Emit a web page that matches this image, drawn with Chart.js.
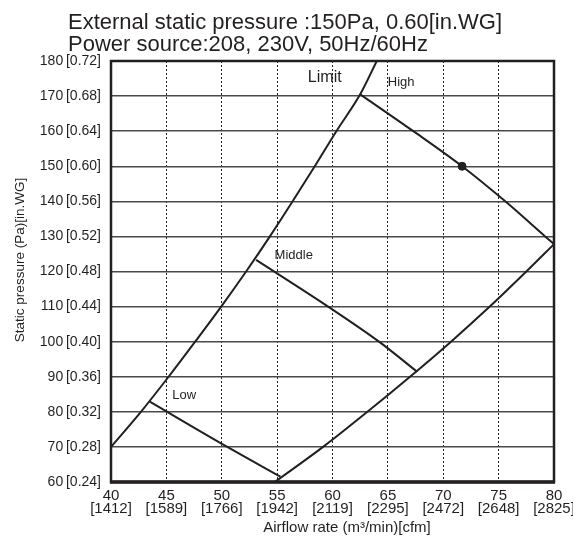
<!DOCTYPE html>
<html>
<head>
<meta charset="utf-8">
<script src="https://cdn.jsdelivr.net/npm/chart.js@4/dist/chart.umd.min.js"></script>
<style>
  html, body { margin: 0; padding: 0; background: #fff; }
  #wrap { width: 573px; height: 539px; position: relative; }
</style>
</head>
<body>
<div id="wrap"><canvas id="fan-chart"></canvas></div>
<script>
// Axis ticks and labels
const xTicks = [40, 45, 50, 55, 60, 65, 70, 75, 80];
const cfmLabels = ['1412', '1589', '1766', '1942', '2119', '2295', '2472', '2648', '2825'];
const yTicks = [60, 70, 80, 90, 100, 110, 120, 130, 140, 150, 160, 170, 180];
const inwgLabels = ['0.24', '0.28', '0.32', '0.36', '0.40', '0.44', '0.48', '0.52', '0.56', '0.60', '0.64', '0.68', '0.72'];

const titleLines = ['External static pressure :150Pa, 0.60[in.WG]', 'Power source:208, 230V, 50Hz/60Hz'];
const xTitle = 'Airflow rate (m³/min)[cfm]';
const yTitle = 'Static pressure (Pa)[in.WG]';

// Curves: airflow (m3/min) and static pressure (Pa)
const limitFlow = [40, 42.7, 45.2, 47.6, 49.95, 52.2, 54.35, 56.4, 58.4, 60.35, 62.5, 64.0];
const limitPa   = [70, 80, 90, 100, 110, 120, 130, 140, 150, 160, 170.5, 180];

const highFlow = [62.5, 67.3, 71.7, 75.6, 79.2, 80];
const highPa   = [170.5, 160, 150, 140, 130, 127.8];

const middleFlow = [53.1, 59.6, 64.2, 67.65];
const middlePa   = [123.3, 110, 100, 91.4];

const lowFlow = [43.5, 50.5, 55.3];
const lowPa   = [82.9, 70, 61.5];

const minFlow = [54.8, 59.15, 63.15, 67.0, 70.7, 74.2, 77.5, 80];
const minPa   = [60, 70, 80, 90, 100, 110, 120, 127.8];

// Rated point
const ratedFlow = [71.7];
const ratedPa = [150];

// Curve names written on the chart
const curveNames = ['Limit', 'High', 'Middle', 'Low'];
const nameFlow = [59.3, 66.2, 56.5, 46.6];
const namePa = [175.4, 173.9, 124.7, 84.7];
const nameSize = [16, 13, 13, 13];

const INK = '#231f20';
const FONT = '"Liberation Sans", Arial, sans-serif';

const toPoints = (xs, ys) => xs.map((x, i) => ({ x, y: ys[i] }));

const lineSet = (xs, ys) => ({
  data: toPoints(xs, ys),
  showLine: true,
  borderColor: INK,
  borderWidth: 2,
  pointRadius: 0,
  tension: 0.4,
  cubicInterpolationMode: 'monotone',
  fill: false
});

// Draws the titles, curve names and the heavy frame
const decorations = {
  id: 'decorations',
  afterDatasetsDraw(chart) {
    const { ctx, chartArea: a, scales: { x, y } } = chart;
    ctx.save();

    // frame
    ctx.strokeStyle = INK;
    ctx.lineWidth = 2.5;
    ctx.strokeRect(a.left, a.top, a.right - a.left, a.bottom - a.top);
    ctx.lineWidth = 3.5;
    ctx.beginPath();
    ctx.moveTo(a.left - 1, a.bottom);
    ctx.lineTo(a.right + 1, a.bottom);
    ctx.stroke();

    // curve names
    ctx.fillStyle = INK;
    ctx.textAlign = 'center';
    ctx.textBaseline = 'middle';
    curveNames.forEach((name, i) => {
      ctx.font = nameSize[i] + 'px ' + FONT;
      ctx.fillText(name, x.getPixelForValue(nameFlow[i]), y.getPixelForValue(namePa[i]));
    });

    // axis titles
    ctx.font = '15px ' + FONT;
    ctx.fillText(xTitle, 347, 528);
    ctx.save();
    ctx.translate(20, 260);
    ctx.rotate(-Math.PI / 2);
    ctx.font = '13.5px ' + FONT;
    ctx.fillText(yTitle, 0, 0);
    ctx.restore();

    // title
    ctx.textAlign = 'left';
    ctx.textBaseline = 'alphabetic';
    ctx.font = '22px ' + FONT;
    ctx.fillText(titleLines[0], 68, 29);
    ctx.fillText(titleLines[1], 68, 51);
    ctx.restore();
  }
};

const ctx = document.getElementById('fan-chart').getContext('2d');
new Chart(ctx, {
  type: 'scatter',
  data: {
    datasets: [
      lineSet(limitFlow, limitPa),
      lineSet(highFlow, highPa),
      lineSet(middleFlow, middlePa),
      lineSet(lowFlow, lowPa),
      lineSet(minFlow, minPa),
      {
        data: toPoints(ratedFlow, ratedPa),
        pointRadius: 4,
        pointBackgroundColor: INK,
        pointBorderColor: INK,
        showLine: false
      }
    ]
  },
  options: {
    responsive: true,
    maintainAspectRatio: false,
    animation: false,
    layout: {
      padding: { top: 61, right: 19, left: 0, bottom: 0 }
    },
    plugins: {
      legend: { display: false },
      tooltip: { enabled: false },
      title: { display: false }
    },
    scales: {
      x: {
        type: 'linear',
        min: 40,
        max: 80,
        afterBuildTicks: (scale) => {
          scale.ticks = xTicks.map(v => ({ value: v }));
        },
        afterFit: (scale) => {
          scale.height = 57;
          scale.paddingLeft = 0;
          scale.paddingRight = 0;
        },
        ticks: {
          color: INK,
          padding: 7,
          maxRotation: 0,
          autoSkip: false,
          font: { family: FONT, size: 15, lineHeight: 0.9 },
          callback: (v) => {
            const i = xTicks.indexOf(v);
            return i < 0 ? '' : [String(v), '[' + cfmLabels[i] + ']'];
          }
        },
        grid: {
          color: INK,
          lineWidth: 1,
          drawTicks: false
        },
        border: { display: false, dash: [2, 2] }
      },
      y: {
        type: 'linear',
        min: 60,
        max: 180,
        afterBuildTicks: (scale) => {
          scale.ticks = yTicks.map(v => ({ value: v }));
        },
        afterFit: (scale) => {
          scale.width = 111;
        },
        ticks: {
          color: INK,
          padding: 10,
          autoSkip: false,
          font: { family: FONT, size: 14 },
          callback: (v) => {
            const i = yTicks.indexOf(v);
            return i < 0 ? '' : v + '\u2009[' + inwgLabels[i] + ']';
          }
        },
        grid: {
          color: '#4a4a4a',
          lineWidth: 1.5,
          drawTicks: false
        },
        border: { display: false }
      }
    }
  },
  plugins: [decorations]
});
</script>
</body>
</html>
